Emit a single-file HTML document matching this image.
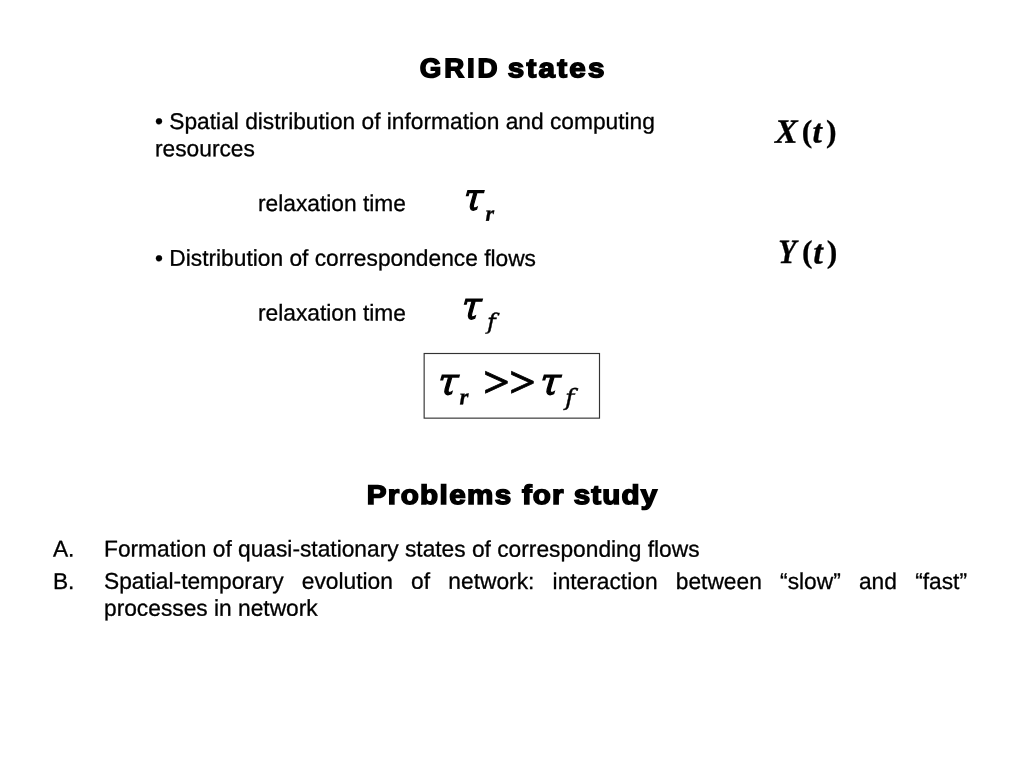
<!DOCTYPE html>
<html lang="en">
<head>
<meta charset="utf-8">
<title>GRID states</title>
<style>
html,body{margin:0;padding:0;background:#fff;}
body{text-rendering:geometricPrecision;width:1024px;height:768px;position:relative;overflow:hidden;font-family:"Liberation Sans",sans-serif;color:#000;}
#page{position:absolute;left:0;top:0;width:1024px;height:768px;will-change:transform;}
.abs{position:absolute;left:0;top:0;margin:0;white-space:nowrap;}
ol,li{margin:0;padding:0;list-style:none;}
.hd{position:absolute;left:0;top:0;width:1024px;height:32px;margin:0;font-weight:bold;font-size:26.9px;line-height:32px;-webkit-text-stroke:1.5px #000;}
.w{position:absolute;left:0;top:0;white-space:nowrap;transform-origin:0 0;}
.t{font-size:22.76px;line-height:27.3px;transform-origin:50% 50%;-webkit-text-stroke:0.3px #000;}
.mg{position:absolute;left:0;top:0;width:0;height:0;font-family:"Liberation Serif",serif;}
.g{position:absolute;left:0;top:0;line-height:1;white-space:nowrap;transform-origin:0 0;}
.bi{font-style:italic;font-weight:bold;}
.i{font-style:italic;}
.b{font-weight:bold;}
.di{font-family:"DejaVu Serif","Liberation Serif",serif;font-style:italic;}
.boxsvg{position:absolute;left:0;top:0;pointer-events:none;}
</style>
</head>
<body>
<div id="page">
<h1 class="hd" id="h1"><span class="w" style="letter-spacing:2.684px;transform:translate(419.88px,52.2px) rotate(0.03deg) scaleX(1.03);">GRID</span> <span class="w" style="letter-spacing:2.023px;transform:translate(507.88px,52.2px) rotate(0.03deg) scaleX(1.1);">states</span></h1>

<section id="states">
<p class="abs t" id="l1" style="transform:translate(155px,108px) rotate(0.03deg);">• Spatial distribution of information and computing</p>
<p class="abs t" id="l2" style="transform:translate(155px,135.25px) rotate(0.03deg);">resources</p>
<p class="abs t" id="l3" style="transform:translate(258px,190px) rotate(0.03deg);">relaxation time</p>
<p class="abs t" id="l4" style="transform:translate(155px,244.8px) rotate(0.03deg);">• Distribution of correspondence flows</p>
<p class="abs t" id="l5" style="transform:translate(258px,299.6px) rotate(0.03deg);">relaxation time</p>
</section>

<!--MATH-->
<div class="mg" id="tr"><span class="g di" style="font-size:37.30px;transform:translate(465.80px,179.45px) rotate(0.03deg) scaleX(0.923) skewX(-6deg);-webkit-text-stroke:1.3px #000;">τ</span><span class="g bi" style="font-size:22.13px;transform:translate(485.41px,202.77px) rotate(0.03deg);-webkit-text-stroke:0.3px #000;">r</span></div>
<div class="mg" id="tf"><span class="g di" style="font-size:38.08px;transform:translate(463.96px,286.78px) rotate(0.03deg) scaleX(0.915) skewX(-6deg);-webkit-text-stroke:1.3px #000;">τ</span><span class="g di" style="font-size:22.07px;transform:translate(487.10px,312.33px) rotate(0.03deg) scaleX(1.085);-webkit-text-stroke:0.4px #000;">f</span></div>
<div class="mg" id="eq"><span class="g di" style="font-size:37.50px;transform:translate(440.12px,363.38px) rotate(0.03deg) scaleX(0.958) skewX(-6deg);-webkit-text-stroke:1.3px #000;">τ</span><span class="g bi" style="font-size:23.09px;transform:translate(459.61px,385.37px) rotate(0.03deg);-webkit-text-stroke:0.3px #000;">r</span><span class="g b" style="font-size:43.50px;transform:translate(483.35px,361.81px) rotate(0.03deg) scaleX(1.070);-webkit-text-stroke:0.8px #000;">&gt;</span><span class="g b" style="font-size:43.50px;transform:translate(509.35px,361.81px) rotate(0.03deg) scaleX(1.070);-webkit-text-stroke:0.8px #000;">&gt;</span><span class="g di" style="font-size:37.50px;transform:translate(542.29px,363.38px) rotate(0.03deg) scaleX(0.973) skewX(-6deg);-webkit-text-stroke:1.3px #000;">τ</span><span class="g di" style="font-size:22.90px;transform:translate(565.09px,387.25px) rotate(0.03deg) scaleX(1.106);-webkit-text-stroke:0.4px #000;">f</span></div>
<div class="mg" id="xt"><span class="g bi" style="font-size:34.00px;transform:translate(774.93px,115.82px) rotate(0.03deg);-webkit-text-stroke:0.3px #000;">X</span><span class="g b" style="font-size:31.68px;transform:translate(801.73px,115.84px) rotate(0.03deg);-webkit-text-stroke:0.25px #000;">(</span><span class="g bi" style="font-size:33.68px;transform:translate(812.54px,115.55px) rotate(0.03deg);-webkit-text-stroke:0.3px #000;">t</span><span class="g b" style="font-size:31.68px;transform:translate(826.13px,115.84px) rotate(0.03deg);-webkit-text-stroke:0.25px #000;">)</span></div>
<div class="mg" id="yt"><span class="g bi" style="font-size:34.21px;transform:translate(778.20px,236.15px) rotate(0.03deg) scaleX(0.867);-webkit-text-stroke:0.3px #000;">Y</span><span class="g b" style="font-size:31.68px;transform:translate(802.13px,236.14px) rotate(0.03deg);-webkit-text-stroke:0.25px #000;">(</span><span class="g bi" style="font-size:34.39px;transform:translate(813.33px,235.46px) rotate(0.03deg);-webkit-text-stroke:0.3px #000;">t</span><span class="g b" style="font-size:31.68px;transform:translate(826.73px,236.14px) rotate(0.03deg);-webkit-text-stroke:0.25px #000;">)</span></div>
<!--/MATH-->
<svg class="boxsvg" width="1024" height="768" viewBox="0 0 1024 768"><rect x="424.15" y="353.5" width="175.35" height="64.65" fill="none" stroke="#333" stroke-width="1.15"/></svg>

<h2 class="hd" id="h2"><span class="w" style="letter-spacing:1.266px;transform:translate(366.64px,479.0px) rotate(0.03deg) scaleX(1.1);">Problems</span> <span class="w" style="letter-spacing:0.971px;transform:translate(521.93px,479.0px) rotate(0.03deg) scaleX(1.1);">for</span> <span class="w" style="letter-spacing:1.031px;transform:translate(573.68px,479.0px) rotate(0.03deg) scaleX(1.1);">study</span></h2>

<ol id="problems">
<li><span class="abs t" id="a1" style="transform:translate(52.9px,535.6px) rotate(0.03deg);">A.</span> <span class="abs t" id="a2" style="transform:translate(104px,535.6px) rotate(0.03deg);">Formation of quasi-stationary states of corresponding flows</span></li>
<li><span class="abs t" id="b1" style="transform:translate(52.9px,567.9px) rotate(0.03deg);">B.</span> <span class="abs t" id="b2" style="transform:translate(104px,567.9px) rotate(0.03deg);width:863px;white-space:normal;text-align:justify;line-height:27.3px;">Spatial-temporary evolution of network: interaction between “slow” and “fast” processes in network</span></li>
</ol>
</div>
</body>
</html>
